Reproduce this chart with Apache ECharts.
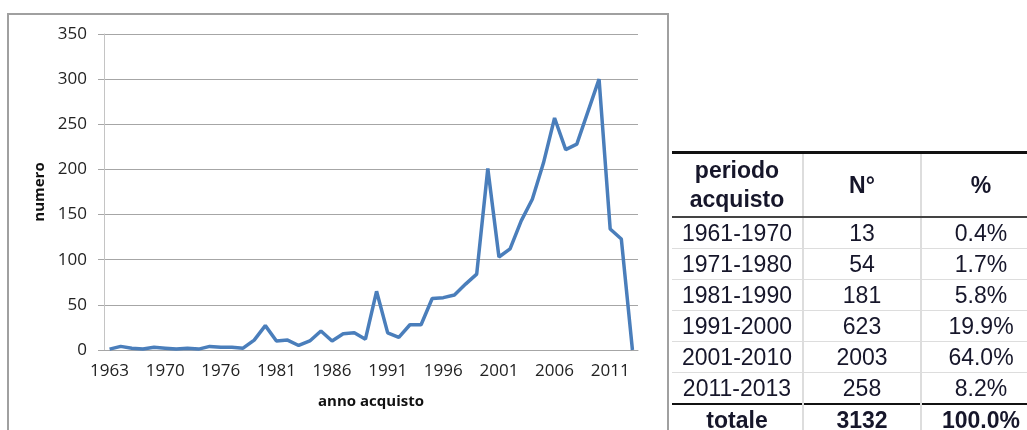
<!DOCTYPE html>
<html>
<head>
<meta charset="utf-8">
<script src="https://cdn.jsdelivr.net/npm/echarts@6/dist/echarts.min.js"></script>
<style>
  html, body { margin: 0; padding: 0; background: #fff; overflow: hidden; }
  body { width: 1027px; height: 430px; position: relative; }
  #frame { position: absolute; left: 7px; top: 13px; width: 662px; height: 440px; border: 2px solid #a0a0a0; box-sizing: border-box; }
  #chart { position: absolute; left: 0; top: 0; width: 1027px; height: 430px; }
  #tbl { position: absolute; left: 672px; top: 151px; width: 368px; border-collapse: collapse;
         font-family: "Liberation Sans", Arial, sans-serif; font-size: 23px; color: #16162a; }
  #tbl td, #tbl th { text-align: center; padding: 0; height: 30px; line-height: 28px;
         border-left: 2px solid #ddd; border-top: 1px solid #ddd; }
  #tbl tr td:first-child, #tbl tr th:first-child { border-left: none; }
  #tbl thead th { border-top: 3px solid #111; border-bottom: 2px solid #444; height: 62px; line-height: 29px; font-weight: bold; }
  #tbl tfoot td { border-top: 2px solid #111; font-weight: bold; }
</style>
</head>
<body>
<div id="frame"></div>
<div id="chart"></div>
<table id="tbl">
  <colgroup><col style="width:131px"><col style="width:118px"><col style="width:119px"></colgroup>
  <thead><tr><th>periodo<br>acquisto</th><th>N°</th><th>%</th></tr></thead>
  <tbody id="tbody"></tbody>
  <tfoot><tr id="tfoot"></tr></tfoot>
</table>
<script>
// anni di acquisto (alcuni anni iniziali mancano)
const years = ['1963', '1964', '1965', '1966', '1968', '1970', '1971', '1972', '1973', '1975',
  '1976', '1977', '1978', '1979', '1980', '1981', '1982', '1983', '1984', '1985',
  '1986', '1987', '1988', '1989', '1990', '1991', '1992', '1993', '1994', '1995',
  '1996', '1997', '1998', '1999', '2000', '2001', '2002', '2003', '2004', '2005',
  '2006', '2007', '2008', '2009', '2010', '2011', '2012', '2013'];
const numero = [1, 4, 2, 1, 3, 2, 1, 2, 1, 4,
  3, 3, 2, 11, 27, 10, 11, 5, 10, 21,
  10, 18, 19, 12, 65, 19, 14, 28, 28, 57,
  58, 61, 73, 84, 201, 103, 112, 143, 167, 207,
  257, 222, 228, 264, 300, 134, 123, 0];

// tabella riassuntiva
const periodi = ['1961-1970', '1971-1980', '1981-1990', '1991-2000', '2001-2010', '2011-2013'];
const conteggi = ['13', '54', '181', '623', '2003', '258'];
const percentuali = ['0.4%', '1.7%', '5.8%', '19.9%', '64.0%', '8.2%'];
const totale = ['totale', '3132', '100.0%'];

const tbody = document.getElementById('tbody');
periodi.forEach((p, i) => {
  const tr = document.createElement('tr');
  [p, conteggi[i], percentuali[i]].forEach(t => {
    const td = document.createElement('td');
    td.textContent = t;
    tr.appendChild(td);
  });
  tbody.appendChild(tr);
});
const tfoot = document.getElementById('tfoot');
totale.forEach(t => {
  const td = document.createElement('td');
  td.textContent = t;
  tfoot.appendChild(td);
});

const chart = echarts.init(document.getElementById('chart'));
const font = '"Open Sans", "Noto Sans", sans-serif';
chart.setOption({
  animation: false,
  grid: {
    left: 104,
    right: 389,
    top: 34,
    bottom: 80
  },
  xAxis: {
    type: 'category',
    data: years,
    boundaryGap: true,
    name: 'anno acquisto',
    nameLocation: 'middle',
    nameGap: 44,
    nameTextStyle: { fontFamily: font, fontSize: 15, fontWeight: 'bold', color: '#111' },
    axisLine: { show: true, lineStyle: { color: '#a6a6a6', width: 1 } },
    axisTick: { show: false },
    axisLabel: {
      interval: 4,
      margin: 13,
      fontFamily: font,
      fontSize: 17,
      color: '#222'
    },
    splitLine: { show: false }
  },
  yAxis: {
    type: 'value',
    min: 0,
    max: 350,
    interval: 50,
    name: 'numero',
    nameLocation: 'middle',
    nameGap: 52,
    nameTextStyle: { fontFamily: font, fontSize: 15, fontWeight: 'bold', color: '#111' },
    axisLine: { show: true, lineStyle: { color: '#c4c4c4', width: 1 } },
    axisTick: { show: true, length: 6, lineStyle: { color: '#a6a6a6' } },
    axisLabel: {
      margin: 17,
      fontFamily: font,
      fontSize: 17,
      color: '#222'
    },
    splitLine: { show: true, lineStyle: { color: '#a6a6a6', width: 1 } }
  },
  series: [{
    name: 'numero',
    type: 'line',
    data: numero,
    symbol: 'none',
    smooth: false,
    lineStyle: { color: '#4a7ebb', width: 3.5 },
    itemStyle: { color: '#4a7ebb' }
  }]
});
</script>
</body>
</html>
